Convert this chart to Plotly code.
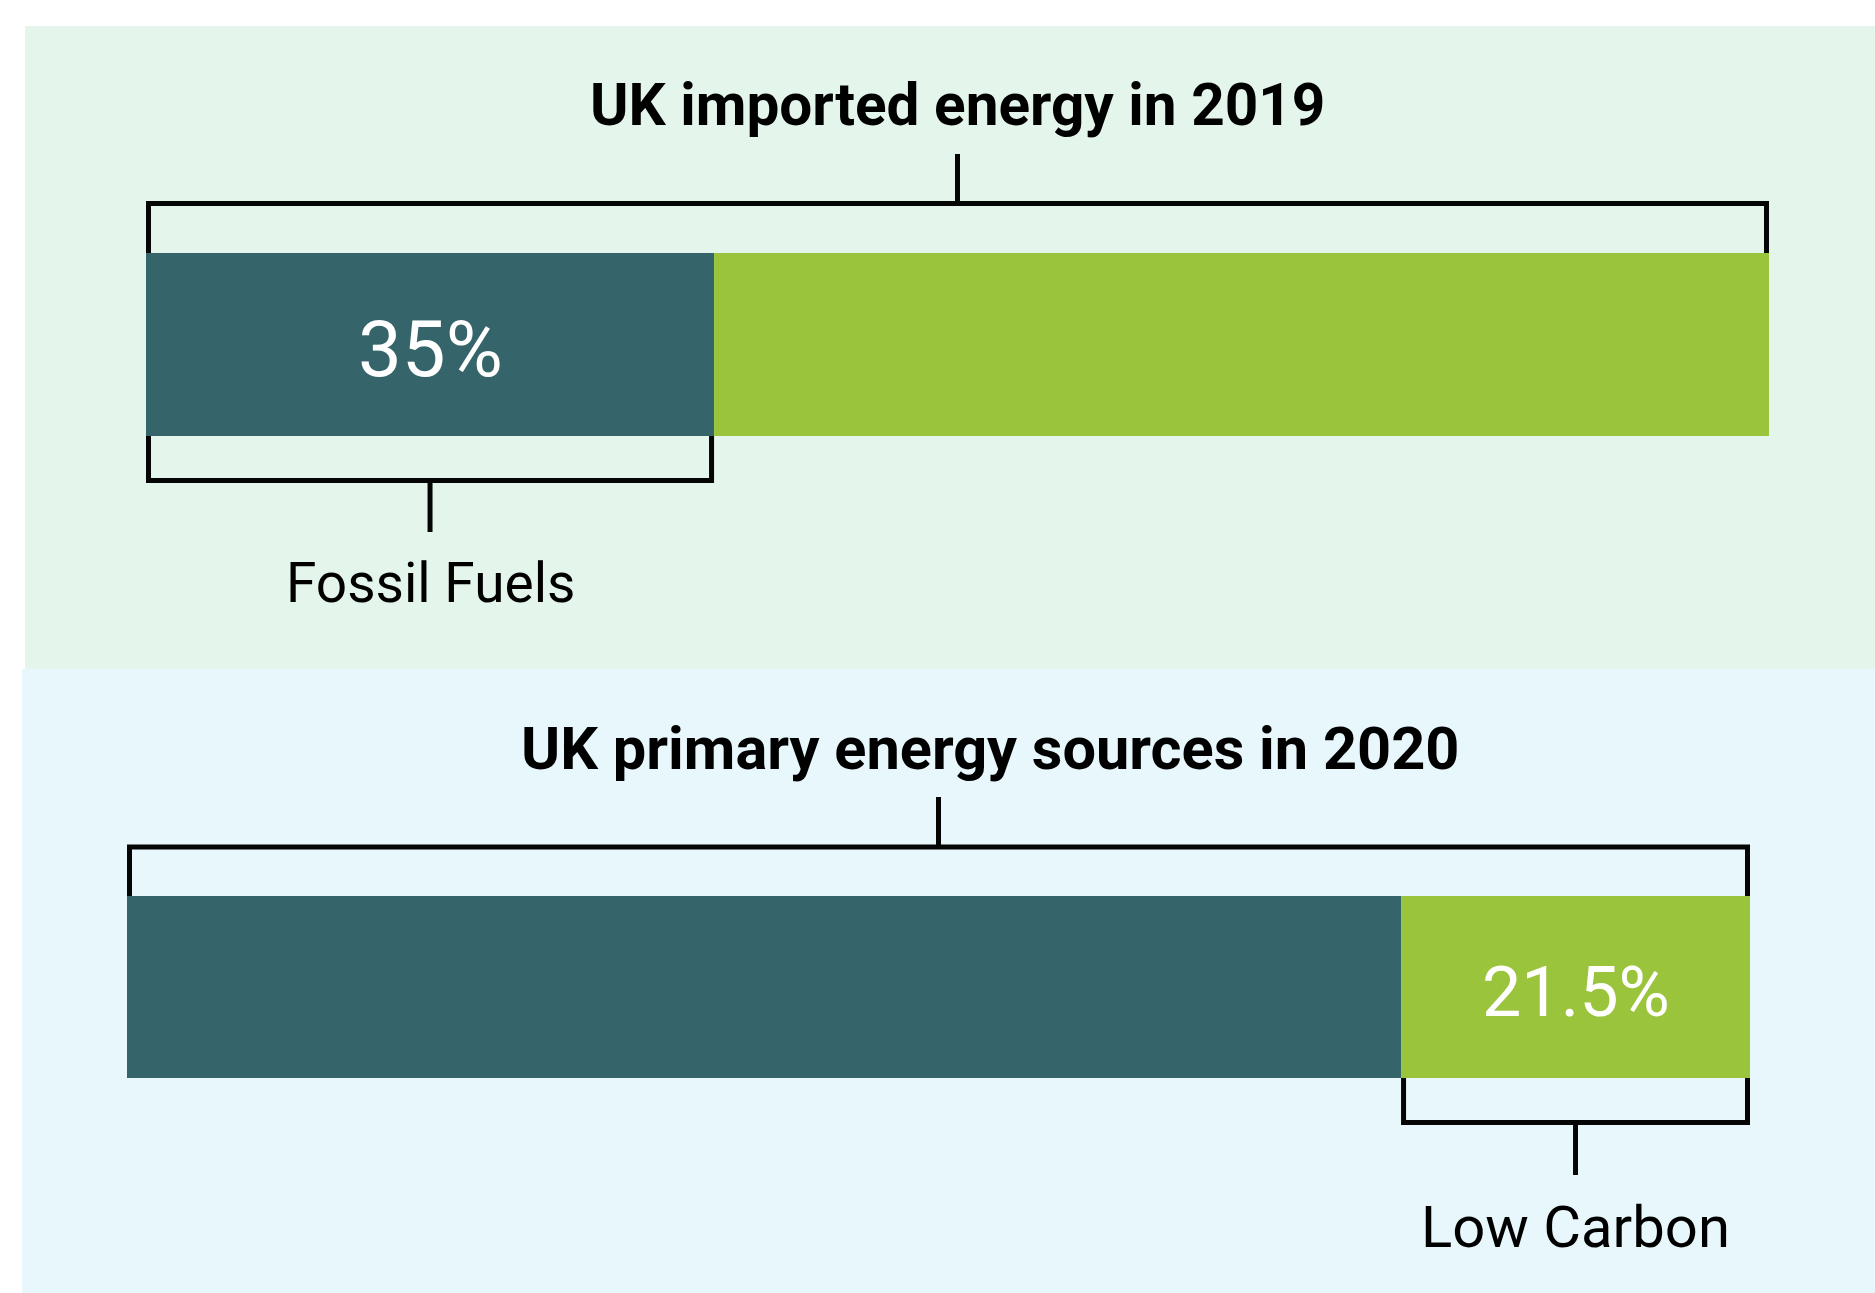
import plotly.graph_objects as go

W, H = 1875, 1293

# ---- data ----
chart_titles = ["UK imported energy in 2019", "UK primary energy sources in 2020"]
imported_2019 = [35, 65]        # fossil fuels, rest
primary_2020 = [78.5, 21.5]     # rest, low carbon
value_labels = ["35%", "21.5%"]
callout_labels = ["Fossil Fuels", "Low Carbon"]

TEAL = "#35646A"
GREEN = "#9AC43B"
INK = "#050505"
LW = 5


def px(x):
    return x / W


def py(y):
    return 1 - y / H


fig = go.Figure()

# top chart bars
fig.add_trace(go.Bar(orientation="h", x=[imported_2019[0]], y=[0], width=1, base=0,
                     marker=dict(color=TEAL, line=dict(width=0)), xaxis="x", yaxis="y"))
fig.add_trace(go.Bar(orientation="h", x=[imported_2019[1]], y=[0], width=1, base=imported_2019[0],
                     marker=dict(color=GREEN, line=dict(width=0)), xaxis="x", yaxis="y"))
# bottom chart bars
fig.add_trace(go.Bar(orientation="h", x=[primary_2020[0]], y=[0], width=1, base=0,
                     marker=dict(color=TEAL, line=dict(width=0)), xaxis="x2", yaxis="y2"))
fig.add_trace(go.Bar(orientation="h", x=[primary_2020[1]], y=[0], width=1, base=primary_2020[0],
                     marker=dict(color=GREEN, line=dict(width=0)), xaxis="x2", yaxis="y2"))

ax1 = (146, 1769)
ax2 = (127, 1750)
total1 = sum(imported_2019)
total2 = sum(primary_2020)

hidden = dict(visible=False, fixedrange=True, showgrid=False, zeroline=False)
fig.update_layout(
    width=W, height=H, margin=dict(l=0, r=0, t=0, b=0),
    paper_bgcolor="white", plot_bgcolor="rgba(0,0,0,0)",
    showlegend=False, hovermode=False, barmode="overlay",
    xaxis=dict(domain=[px(ax1[0]), px(ax1[1])], range=[0, total1], anchor="y", **hidden),
    yaxis=dict(domain=[py(436), py(253)], range=[-0.5, 0.5], anchor="x", **hidden),
    xaxis2=dict(domain=[px(ax2[0]), px(ax2[1])], range=[0, total2], anchor="y2", **hidden),
    yaxis2=dict(domain=[py(1078), py(896)], range=[-0.5, 0.5], anchor="x2", **hidden),
)

shapes = []
# background panels
shapes.append(dict(type="rect", xref="paper", yref="paper", x0=px(25), x1=1, y0=py(669), y1=py(26),
                   fillcolor="#E4F5EB", line=dict(width=0), layer="below"))
shapes.append(dict(type="rect", xref="paper", yref="paper", x0=px(22), x1=1, y0=0, y1=py(669),
                   fillcolor="#E7F7FB", line=dict(width=0), layer="below"))


def bracket(xref, total, axpx, start, end, y_edge, y_line, stem_end):
    dx = (LW / 2) / (axpx[1] - axpx[0]) * total
    x0, x1 = start + dx, end - dx
    path = (f"M {x0},{py(y_edge)} L {x0},{py(y_line)} "
            f"L {x1},{py(y_line)} L {x1},{py(y_edge)}")
    shapes.append(dict(type="path", xref=xref, yref="paper", path=path,
                       line=dict(color=INK, width=LW), fillcolor="rgba(0,0,0,0)"))
    xm = (start + end) / 2
    shapes.append(dict(type="line", xref=xref, yref="paper", x0=xm, x1=xm,
                       y0=py(y_line), y1=py(stem_end), line=dict(color=INK, width=LW)))
    return xm


# top chart: whole-bar bracket and fossil bracket
mid1 = bracket("x", total1, ax1, 0, total1, 253, 203.5, 154)
fos_mid = bracket("x", total1, ax1, 0, imported_2019[0], 436, 480.5, 532)
# bottom chart: whole-bar bracket and low-carbon bracket
mid2 = bracket("x2", total2, ax2, 0, total2, 896, 847, 797)
low_mid = bracket("x2", total2, ax2, primary_2020[0], total2, 1078, 1122.5, 1175)

fig.update_layout(shapes=shapes)

ann = []
ann.append(dict(text=chart_titles[0], xref="x", yref="paper", x=mid1, y=py(105),
                font=dict(family="Roboto", size=58.5, color="#000", weight=700)))
ann.append(dict(text=chart_titles[1], xref="paper", yref="paper", x=px(990), y=py(748.5),
                font=dict(family="Roboto", size=59.5, color="#000", weight=700)))
ann.append(dict(text=value_labels[0], xref="x", yref="paper", x=imported_2019[0] / 2, y=py(349),
                font=dict(family="Roboto", size=78, color="white")))
ann.append(dict(text=value_labels[1], xref="x2", yref="paper",
                x=primary_2020[0] + primary_2020[1] / 2, y=py(991.5),
                font=dict(family="Roboto", size=70, color="white")))
ann.append(dict(text=callout_labels[0], xref="x", yref="paper", x=fos_mid, y=py(583),
                font=dict(family="Roboto", size=55, color="#000")))
ann.append(dict(text=callout_labels[1], xref="x2", yref="paper", x=low_mid, y=py(1227),
                font=dict(family="Roboto", size=58, color="#000")))
for a in ann:
    a.update(showarrow=False, xanchor="center", yanchor="middle")
fig.update_layout(annotations=ann)

fig.write_html("out.html")
